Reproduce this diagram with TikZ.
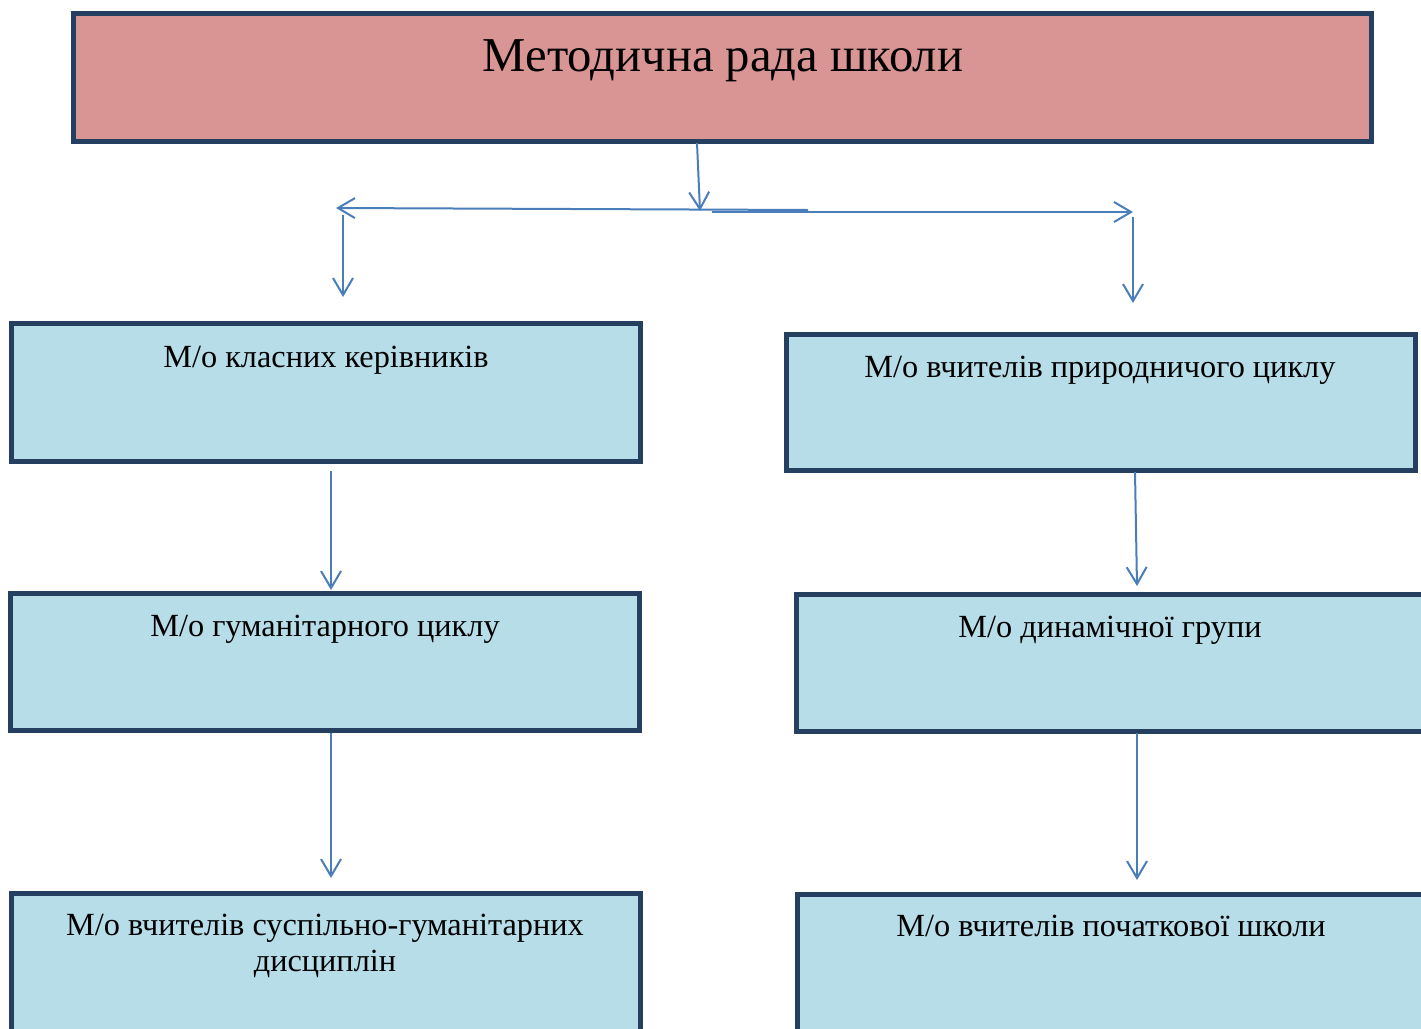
\documentclass[tikz,border=0pt]{standalone}
\usepackage{fontspec}
\setmainfont{Liberation Serif}
\usetikzlibrary{arrows.meta,calc}
\definecolor{boxborder}{HTML}{243F60}
\definecolor{titlefill}{HTML}{D99594}
\definecolor{boxfill}{HTML}{B7DDE8}
\definecolor{arrowblue}{HTML}{4A7EBB}
\begin{document}
\begin{tikzpicture}[x=1pt,y=-1pt,
 box/.style={draw=boxborder,line width=5pt,fill=boxfill,rectangle,inner sep=0pt,outer sep=0pt,anchor=north west},
 conn/.style={draw=arrowblue,line width=2pt,-{Straight Barb[length=17pt,width=20pt,line width=2pt]}},
 lbl/.style={anchor=base,font=\fontsize{32.3}{37}\selectfont,inner sep=0pt}]
\useasboundingbox (0,0) rectangle (1421,1028);
\clip (0,0) rectangle (1421,1028);
% boxes
\node[box,fill=titlefill,minimum width=1298pt,minimum height=128pt] (title) at (73.5,13.5) {};
\node[box,minimum width=629pt,minimum height=138pt] (b1) at (11.5,323.5) {};
\node[box,minimum width=629pt,minimum height=136pt] (b2) at (786.5,334.5) {};
\node[box,minimum width=629pt,minimum height=137pt] (b3) at (10.5,593.5) {};
\node[box,minimum width=632pt,minimum height=137pt] (b4) at (796.5,594.5) {};
\node[box,minimum width=629pt,minimum height=150pt] (b5) at (11.5,893.5) {};
\node[box,minimum width=632pt,minimum height=150pt] (b6) at (797.5,894.5) {};
% texts
\node[lbl,font=\fontsize{48.7}{56}\selectfont] (ttitle) at (723,71) {Методична рада школи};
\node[lbl] (t1) at (326,367) {М/о класних керівників};
\node[lbl] (t2) at (1100,377) {М/о вчителів природничого циклу};
\node[lbl] (t3) at (325,636) {М/о гуманітарного циклу};
\node[lbl] (t4) at (1110,637) {М/о динамічної групи};
\node[lbl] (t5a) at (325,935) {М/о вчителів суспільно-гуманітарних};
\node[lbl] (t5b) at (325,971) {дисциплін};
\node[lbl] (t6) at (1111,936) {М/о вчителів початкової школи};
% connector points
\coordinate (j0) at (697,143);
\coordinate (j1) at (700,211);
\coordinate (lS) at (808,210);
\coordinate (lE) at (336,208);
\coordinate (rS) at (712,212);
\coordinate (rE) at (1133,212);
\coordinate (lv0) at (343,215);
\coordinate (lv1) at (343,297);
\coordinate (rv0) at (1133,217);
\coordinate (rv1) at (1133,303);
\coordinate (a0) at (331,471);
\coordinate (a1) at (331,590);
\coordinate (b0) at (1135,472);
\coordinate (bb1) at (1137,586);
\coordinate (c0) at (331,733);
\coordinate (c1) at (331,878);
\coordinate (d0) at (1137,733);
\coordinate (d1) at (1137,880);
% connectors
\draw[conn] (j0) -- (j1);
\draw[conn] (lS) -- (lE);
\draw[conn] (rS) -- (rE);
\draw[conn] (lv0) -- (lv1);
\draw[conn] (rv0) -- (rv1);
\draw[conn] (a0) -- (a1);
\draw[conn] (b0) -- (bb1);
\draw[conn] (c0) -- (c1);
\draw[conn] (d0) -- (d1);
\end{tikzpicture}
\end{document}
